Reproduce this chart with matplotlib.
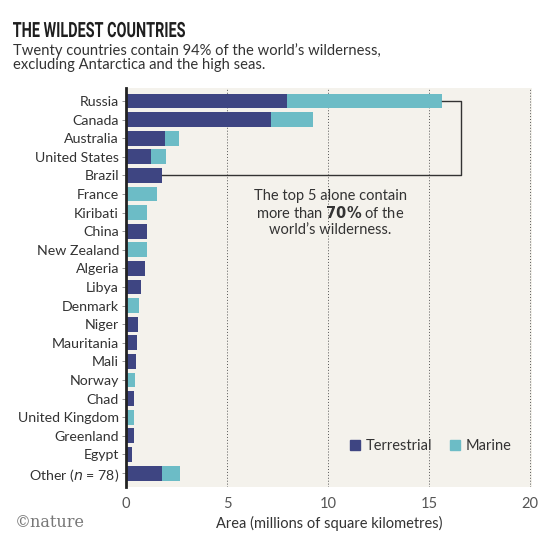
import matplotlib
matplotlib.use("Agg")
import matplotlib.pyplot as plt
from matplotlib.patches import Patch, PathPatch
from matplotlib.textpath import TextPath
from matplotlib.font_manager import FontProperties
from matplotlib.transforms import Affine2D

# data (millions of km2)
countries = ["Russia", "Canada", "Australia", "United States", "Brazil", "France",
             "Kiribati", "China", "New Zealand", "Algeria", "Libya", "Denmark",
             "Niger", "Mauritania", "Mali", "Norway", "Chad", "United Kingdom",
             "Greenland", "Egypt", "Other ($\\it{n}$ = 78)"]
terrestrial = [7.95, 7.2, 1.93, 1.22, 1.76, 0.0, 0.0, 1.02, 0.0, 0.95, 0.76, 0.0,
               0.59, 0.56, 0.49, 0.0, 0.40, 0.0, 0.40, 0.31, 1.78]
marine = [7.7, 2.05, 0.67, 0.74, 0.0, 1.53, 1.02, 0.0, 1.04, 0.0, 0.0, 0.66,
          0.0, 0.0, 0.0, 0.44, 0.0, 0.40, 0.0, 0.0, 0.9]
xticks = [0, 5, 10, 15, 20]

navy = "#3e4582"
teal = "#6cbcc6"
bg = "#f4f2ec"
txt = "#333333"

plt.rcParams["font.family"] = ["Lato", "DejaVu Sans"]

fig = plt.figure(figsize=(5.51, 5.45), dpi=100)
ax = fig.add_axes([0.2287, 0.1064, 0.7368, 0.7321])
ax.set_facecolor(bg)

y = list(range(len(countries)))
ax.barh(y, terrestrial, height=0.8, color=navy, zorder=3)
ax.barh(y, marine, left=terrestrial, height=0.8, color=teal, zorder=3)

ax.set_xlim(0, 20.1)
ax.set_ylim(20.75, -0.7)
ax.set_yticks(y)
ax.set_yticklabels(countries, fontsize=10.2, color=txt)
ax.set_xticks(xticks)
ax.set_xticklabels([str(t) for t in xticks], fontsize=10.5, color="#555555")
ax.tick_params(axis="y", length=3, width=0.6, color="#888888", pad=2)
ax.tick_params(axis="x", length=0, pad=7)
for x in xticks[1:]:
    ax.axvline(x, color="#555555", lw=0.7, ls=(0, (1, 2)), zorder=1)

for s in ["top", "right", "bottom"]:
    ax.spines[s].set_visible(False)
ax.spines["left"].set_linewidth(2)
ax.spines["left"].set_color("#222222")
ax.spines["left"].set_zorder(4)

ax.set_xlabel("Area (millions of square kilometres)", fontsize=10.5, color=txt, labelpad=4)

# bracket around top five
tot0 = terrestrial[0] + marine[0]
tot4 = terrestrial[4] + marine[4]
ax.plot([tot0, 16.6, 16.6, tot4], [0, 0, 4, 4], color="#333333", lw=1, zorder=4)
ax.text(10.1, 5.1, "The top 5 alone contain", ha="center", va="center", fontsize=10.5, color=txt)
ax.text(10.1, 6.0, "more than $\\bf{70\\%}$ of the", ha="center", va="center", fontsize=10.5, color=txt)
ax.text(10.1, 6.92, "world\u2019s wilderness.", ha="center", va="center", fontsize=10.5, color=txt)

handles = [Patch(color=navy, label="Terrestrial"), Patch(color=teal, label="Marine")]
ax.legend(handles=handles, loc="center", bbox_to_anchor=(0.75, 0.103), ncol=2,
          frameon=False, fontsize=10.5, handlelength=0.7, handleheight=0.7,
          handletextpad=0.4, columnspacing=1.2, labelcolor=txt)

# condensed bold title drawn as a squeezed text path
tp = TextPath((0, 0), "THE WILDEST COUNTRIES", size=21,
              prop=FontProperties(family="Roboto", weight="bold"))
ext = tp.get_extents()
sx = 172 / ext.width
title = PathPatch(tp, color="#1e1e1e", lw=0,
                  transform=Affine2D().scale(sx, 1).translate(13 - ext.x0 * sx, 545 - 37))
fig.add_artist(title)

fig.text(0.024, 0.9, "Twenty countries contain 94% of the world\u2019s wilderness,",
         fontsize=10.6, color=txt, va="baseline")
fig.text(0.024, 0.8725, "excluding Antarctica and the high seas.",
         fontsize=10.6, color=txt, va="baseline")
fig.text(0.027, 0.033, "\u00a9nature", fontsize=11.5, family=["DejaVu Serif"],
         color="#777777", va="baseline")

fig.savefig("out.png", dpi=100)
